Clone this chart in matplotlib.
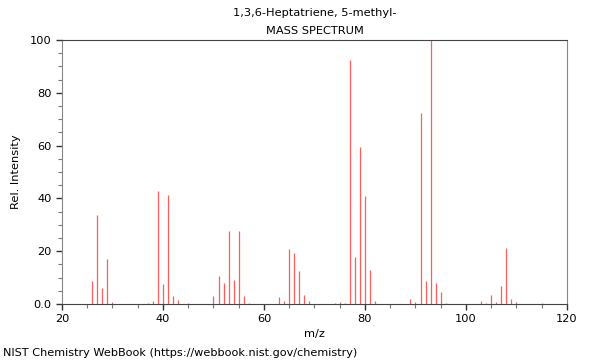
#!/usr/bin/env python3
"""
Mass spectrum stick plot (NIST WebBook style)
"""

import matplotlib
matplotlib.use("Agg")
import matplotlib.pyplot as plt
from matplotlib.ticker import MultipleLocator, FixedFormatter, FixedLocator

# Peaks
MZ = [26, 27, 28, 29, 30, 37, 38, 39, 40, 41, 42, 43, 45,
      50, 51, 52, 53, 54, 55, 56, 57,
      63, 64, 65, 66, 67, 68, 69, 74, 75, 76, 77, 78, 79, 80, 81, 82,
      89, 90, 91, 92, 93, 94, 95, 96,
      103, 104, 105, 106, 107, 108, 109, 110, 115]
INTENSITY = [8.7, 33.7, 6.2, 16.9, 0.6, 0.4, 1.1, 42.9, 7.7, 41.3, 2.9, 1.5, 0.4,
             3.1, 10.5, 8.0, 27.7, 9.1, 27.7, 3.0, 0.4,
             2.6, 1.3, 20.8, 19.3, 12.6, 3.4, 1.1, 0.4, 0.9, 0.3, 92.4, 17.8, 59.5, 40.9, 12.9, 1.1,
             1.9, 0.8, 72.3, 8.8, 100.0, 8.0, 4.5, 0.4,
             1.0, 0.3, 3.3, 0.8, 6.8, 21.2, 2.0, 0.7, 0.4]

TITLE = "1,3,6-Heptatriene, 5-methyl-\nMASS SPECTRUM"
X_TICKS = [20, 40, 60, 80, 100, 120]
Y_TICKS = [0, 20, 40, 60, 80, 100]
Y_LABELS = ["0.0", "20", "40", "60", "80", "100"]


def create_plot():
    fig = plt.figure(figsize=(6, 3.6), dpi=100)
    ax = fig.add_axes([0.1033, 0.1556, 0.8417, 0.7333])

    ax.vlines(MZ, 0, INTENSITY, color="#ff4040", linewidth=0.9, alpha=0.85)

    ax.set_xlim(20, 120)
    ax.set_ylim(0, 100)

    ax.xaxis.set_major_locator(FixedLocator(X_TICKS))
    ax.xaxis.set_minor_locator(MultipleLocator(5))
    ax.yaxis.set_major_locator(FixedLocator(Y_TICKS))
    ax.yaxis.set_major_formatter(FixedFormatter(Y_LABELS))
    ax.yaxis.set_minor_locator(MultipleLocator(5))

    ax.tick_params(which="major", direction="out", length=4, width=1,
                   color="#333333", labelsize=8.2)
    ax.tick_params(which="minor", direction="out", length=3, width=0.8,
                   color="#777777")

    for side in ["top", "bottom"]:
        ax.spines[side].set_color("#444444")
    for side in ["left", "right"]:
        ax.spines[side].set_color("#888888")

    ax.set_xlabel("m/z", fontsize=8.2, labelpad=3)
    ax.set_ylabel("Rel. Intensity", fontsize=8.2, labelpad=6)
    ax.set_title(TITLE, fontsize=8.2, linespacing=2.0, pad=4)

    fig.text(0.005, 0.005, "NIST Chemistry WebBook (https://webbook.nist.gov/chemistry)",
             fontsize=8.1, ha="left", va="bottom")

    plt.savefig("out.png", dpi=100)
    plt.close()


if __name__ == "__main__":
    create_plot()
